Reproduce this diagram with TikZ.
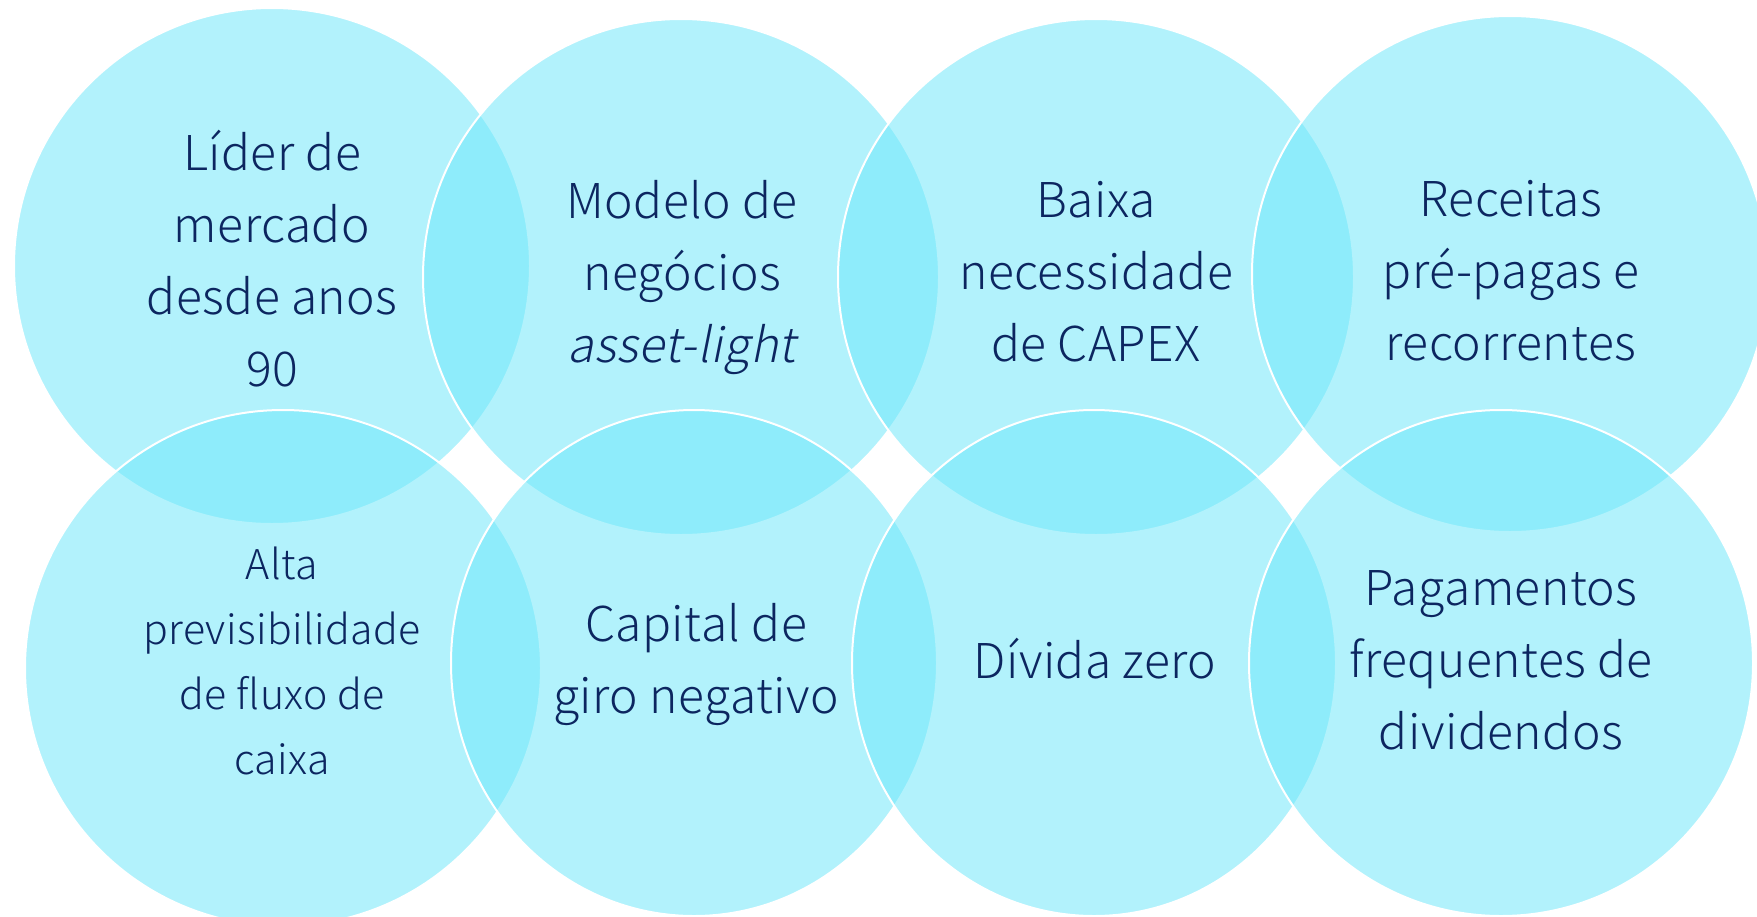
\documentclass[tikz,border=0pt]{standalone}
\usepackage{fontspec}
\IfFontExistsTF{Noto Sans CJK JP Light}{%
  \setmainfont{Noto Sans CJK JP Light}[AutoFakeSlant=0.2, LetterSpace=1]%
}{%
  \setmainfont{Noto Sans CJK JP}[AutoFakeSlant=0.2, LetterSpace=0]%
}
\definecolor{venn}{RGB}{110,232,251}
\definecolor{navy}{RGB}{12,38,96}
\tikzset{
  vennshape/.style={fill=venn, fill opacity=0.53, draw=white, draw opacity=1, line width=2pt},
  label/.style={align=center, text=navy, inner sep=0pt, font=\fontsize{48}{72}\selectfont},
  smalllabel/.style={label, font=\fontsize{41}{65}\selectfont}
}
\begin{document}
\begin{tikzpicture}[x=1pt,y=-1pt]
\useasboundingbox (0,0) rectangle (1757,916);
\clip (0,0) rectangle (1757,916);
\fill[white] (0,0) rectangle (1757,916);
% top row
\path[vennshape] (272,266) circle[radius=258];
\path[vennshape] (681,277) circle[radius=258];
\path[vennshape] (1096,277) circle[radius=258];
\path[vennshape] (1510,274) circle[radius=258];
% bottom row
\path[vennshape] (283,668) circle[radius=258];
\path[vennshape] (694,663) ellipse[x radius=243, y radius=253];
\path[vennshape] (1094,663) ellipse[x radius=242, y radius=253];
\path[vennshape] (1501,663) ellipse[x radius=252, y radius=253];
% labels
\node[label] (t1) at (272,259) {Líder de\\mercado\\desde anos\\90};
\node[label] (t2) at (682,278) {Modelo de\\negócios\\\textit{asset-light}};
\node[label] (t3) at (1096,272) {Baixa\\necessidade\\de CAPEX};
\node[label] (t4) at (1511,271) {Receitas\\pré-pagas e\\recorrentes};
\node[smalllabel] (t5) at (282,661) {Alta\\previsibilidade\\de fluxo de\\caixa};
\node[label] (t6) at (696,665) {Capital de\\giro negativo};
\node[label] (t7) at (1095,659) {Dívida zero};
\node[label] (t8) at (1501,660) {Pagamentos\\frequentes de\\dividendos};
\end{tikzpicture}
\end{document}
